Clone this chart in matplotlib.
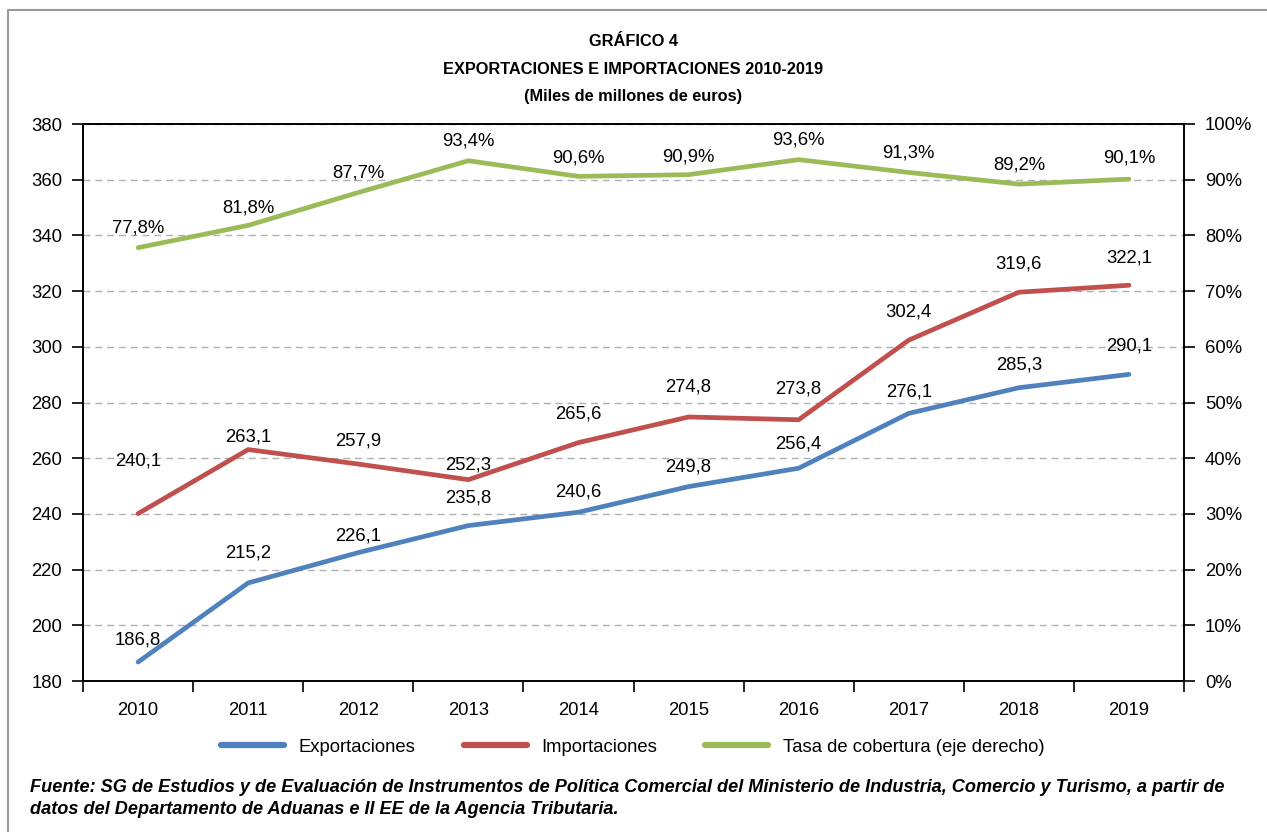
import matplotlib.pyplot as plt
from matplotlib.ticker import FixedLocator, FuncFormatter
from matplotlib.lines import Line2D

plt.rcParams['font.family'] = ['Liberation Sans', 'DejaVu Sans']

years = ["2010", "2011", "2012", "2013", "2014", "2015", "2016", "2017", "2018", "2019"]
exportaciones = [186.8, 215.2, 226.1, 235.8, 240.6, 249.8, 256.4, 276.1, 285.3, 290.1]
importaciones = [240.1, 263.1, 257.9, 252.3, 265.6, 274.8, 273.8, 302.4, 319.6, 322.1]
cobertura = [77.8, 81.8, 87.7, 93.4, 90.6, 90.9, 93.6, 91.3, 89.2, 90.1]

# label offsets above each point, in pixels (as placed in the original)
exp_dy = [22, 30, 17, 28, 20, 20, 24, 21, 23, 28]
imp_dy = [53, 13, 23, 15, 29, 30, 31, 28, 28, 27]
cob_dy = [20, 17, 20, 20, 18, 18, 20, 19, 19, 21]

c_exp = "#4f81bd"
c_imp = "#c0504d"
c_cob = "#9bbb59"

fs = 13.3

fig = plt.figure(figsize=(12.67, 8.32), dpi=100)
ax = fig.add_axes([83 / 1267, 1 - 681 / 832, (1184 - 83) / 1267, (681 - 124) / 832])
ax2 = ax.twinx()

x = list(range(len(years)))
ax.plot(x, exportaciones, color=c_exp, lw=3.4, solid_capstyle="round", zorder=3)
ax.plot(x, importaciones, color=c_imp, lw=3.4, solid_capstyle="round", zorder=3)
ax2.plot(x, cobertura, color=c_cob, lw=3.4, solid_capstyle="round", zorder=3)

px = 72 / 100  # pixels -> points
fmt = lambda v: f"{v:.1f}".replace(".", ",")
for i in x:
    ax.annotate(fmt(exportaciones[i]), (i, exportaciones[i]), xytext=(0, exp_dy[i] * px),
                textcoords="offset points", ha="center", va="center", fontsize=fs)
    ax.annotate(fmt(importaciones[i]), (i, importaciones[i]), xytext=(0, imp_dy[i] * px),
                textcoords="offset points", ha="center", va="center", fontsize=fs)
    ax2.annotate(fmt(cobertura[i]) + "%", (i, cobertura[i]), xytext=(0, cob_dy[i] * px),
                 textcoords="offset points", ha="center", va="center", fontsize=fs)

ax.set_xlim(-0.5, 9.5)
ax.set_ylim(180, 380)
ax2.set_ylim(0, 100)
ax.set_yticks(range(180, 381, 20))
ax2.set_yticks(range(0, 101, 10))
ax2.yaxis.set_major_formatter(FuncFormatter(lambda v, p: f"{int(v)}%"))

ax.set_xticks(x)
ax.set_xticklabels(years)
ax.xaxis.set_minor_locator(FixedLocator([i - 0.5 for i in range(len(years) + 1)]))
ax.tick_params(axis="x", which="major", length=0, pad=15, labelsize=fs)
ax.tick_params(axis="x", which="minor", length=8, width=1.2, direction="out")
ax.tick_params(axis="y", length=8, width=1.2, direction="out", pad=7, labelsize=fs)
ax2.tick_params(axis="y", length=8, width=1.2, direction="out", pad=7, labelsize=fs)

for a in (ax, ax2):
    for s in a.spines.values():
        s.set_linewidth(1.2)
        s.set_color("black")

ax.grid(axis="y", linestyle=(0, (5, 3.5)), color="#b0b0b0", lw=1)
ax.set_axisbelow(True)

# titles
tfs = 11.8
fig.text(0.5, 1 - 42 / 832, "GRÁFICO 4", ha="center", va="center", fontsize=tfs, fontweight="bold")
fig.text(0.5, 1 - 70 / 832, "EXPORTACIONES E IMPORTACIONES 2010-2019", ha="center", va="center",
         fontsize=tfs, fontweight="bold")
fig.text(0.5, 1 - 97 / 832, "(Miles de millones de euros)", ha="center", va="center",
         fontsize=tfs, fontweight="bold")

# legend
handles = [Line2D([], [], color=c, lw=4.5, solid_capstyle="round") for c in (c_exp, c_imp, c_cob)]
fig.legend(handles, ["Exportaciones", "Importaciones", "Tasa de cobertura (eje derecho)"],
           loc="center", bbox_to_anchor=(633 / 1267, 1 - 747 / 832), ncol=3, frameon=False,
           fontsize=fs, handlelength=3.4, columnspacing=2.6, handletextpad=0.8)

# source note
nfs = 13.1
fig.text(30 / 1267, 1 - 788 / 832,
         "Fuente: SG de Estudios y de Evaluación de Instrumentos de Política Comercial del Ministerio de Industria, Comercio y Turismo, a partir de",
         ha="left", va="center", fontsize=nfs, fontweight="bold", fontstyle="italic")
fig.text(30 / 1267, 1 - 810 / 832,
         "datos del Departamento de Aduanas e II EE de la Agencia Tributaria.",
         ha="left", va="center", fontsize=nfs, fontweight="bold", fontstyle="italic")

# outer frame (top and left edges)
fig.add_artist(Line2D([8 / 1267, 8 / 1267, 1.0], [0.0, 1 - 10 / 832, 1 - 10 / 832],
                      transform=fig.transFigure, color="#9a9a9a", lw=1.5))

fig.savefig("out.png", dpi=100)
